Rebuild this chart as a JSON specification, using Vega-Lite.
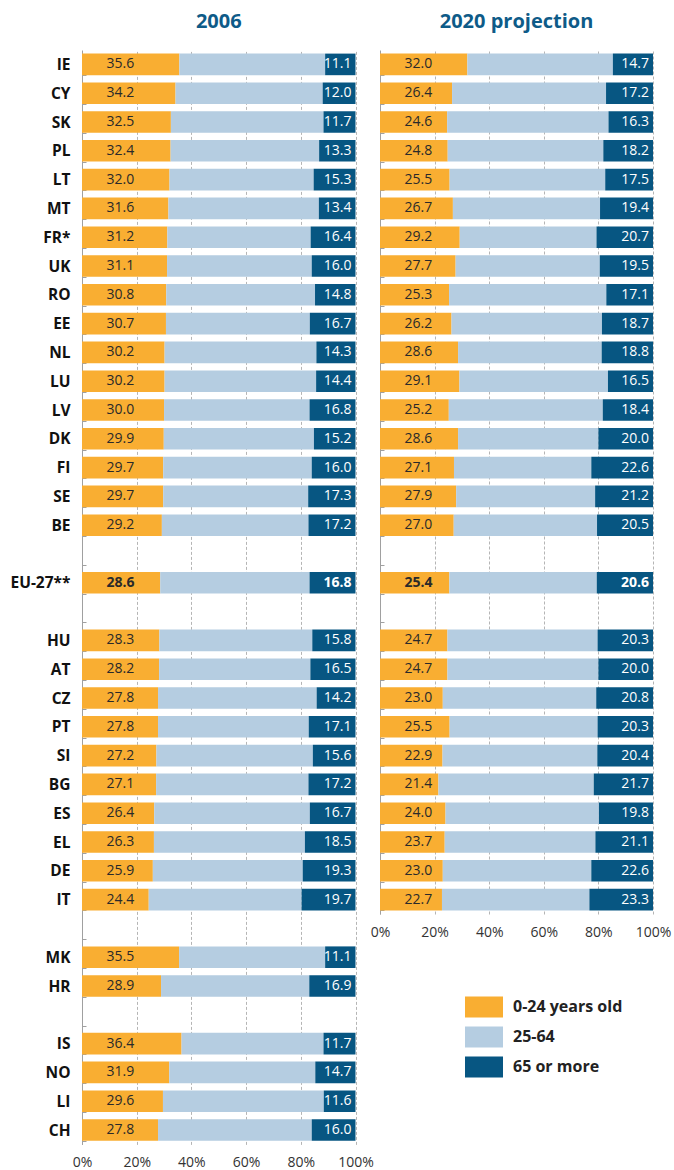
{
  "$schema": "https://vega.github.io/schema/vega-lite/v6.json",
  "background": "white",
  "padding": {"left": 9, "top": 12, "right": 2, "bottom": 2},
  "bounds": "flush",
  "spacing": 24,
  "datasets": {
    "d2006": [
      {"c": "IE", "0-24 years old": 35.6, "25-64": 53.3, "65 or more": 11.1},
      {"c": "CY", "0-24 years old": 34.2, "25-64": 53.8, "65 or more": 12.0},
      {"c": "SK", "0-24 years old": 32.5, "25-64": 55.8, "65 or more": 11.7},
      {"c": "PL", "0-24 years old": 32.4, "25-64": 54.3, "65 or more": 13.3},
      {"c": "LT", "0-24 years old": 32.0, "25-64": 52.7, "65 or more": 15.3},
      {"c": "MT", "0-24 years old": 31.6, "25-64": 55.0, "65 or more": 13.4},
      {"c": "FR*", "0-24 years old": 31.2, "25-64": 52.4, "65 or more": 16.4},
      {"c": "UK", "0-24 years old": 31.1, "25-64": 52.9, "65 or more": 16.0},
      {"c": "RO", "0-24 years old": 30.8, "25-64": 54.4, "65 or more": 14.8},
      {"c": "EE", "0-24 years old": 30.7, "25-64": 52.6, "65 or more": 16.7},
      {"c": "NL", "0-24 years old": 30.2, "25-64": 55.5, "65 or more": 14.3},
      {"c": "LU", "0-24 years old": 30.2, "25-64": 55.4, "65 or more": 14.4},
      {"c": "LV", "0-24 years old": 30.0, "25-64": 53.2, "65 or more": 16.8},
      {"c": "DK", "0-24 years old": 29.9, "25-64": 54.9, "65 or more": 15.2},
      {"c": "FI", "0-24 years old": 29.7, "25-64": 54.3, "65 or more": 16.0},
      {"c": "SE", "0-24 years old": 29.7, "25-64": 53.0, "65 or more": 17.3},
      {"c": "BE", "0-24 years old": 29.2, "25-64": 53.6, "65 or more": 17.2},
      {"c": "EU-27**", "0-24 years old": 28.6, "25-64": 54.6, "65 or more": 16.8},
      {"c": "HU", "0-24 years old": 28.3, "25-64": 55.9, "65 or more": 15.8},
      {"c": "AT", "0-24 years old": 28.2, "25-64": 55.3, "65 or more": 16.5},
      {"c": "CZ", "0-24 years old": 27.8, "25-64": 58.0, "65 or more": 14.2},
      {"c": "PT", "0-24 years old": 27.8, "25-64": 55.1, "65 or more": 17.1},
      {"c": "SI", "0-24 years old": 27.2, "25-64": 57.2, "65 or more": 15.6},
      {"c": "BG", "0-24 years old": 27.1, "25-64": 55.7, "65 or more": 17.2},
      {"c": "ES", "0-24 years old": 26.4, "25-64": 56.9, "65 or more": 16.7},
      {"c": "EL", "0-24 years old": 26.3, "25-64": 55.2, "65 or more": 18.5},
      {"c": "DE", "0-24 years old": 25.9, "25-64": 54.8, "65 or more": 19.3},
      {"c": "IT", "0-24 years old": 24.4, "25-64": 55.9, "65 or more": 19.7},
      {"c": "MK", "0-24 years old": 35.5, "25-64": 53.4, "65 or more": 11.1},
      {"c": "HR", "0-24 years old": 28.9, "25-64": 54.2, "65 or more": 16.9},
      {"c": "IS", "0-24 years old": 36.4, "25-64": 51.9, "65 or more": 11.7},
      {"c": "NO", "0-24 years old": 31.9, "25-64": 53.4, "65 or more": 14.7},
      {"c": "LI", "0-24 years old": 29.6, "25-64": 58.8, "65 or more": 11.6},
      {"c": "CH", "0-24 years old": 27.8, "25-64": 56.2, "65 or more": 16.0}
    ],
    "d2020": [
      {"c": "IE", "0-24 years old": 32.0, "25-64": 53.3, "65 or more": 14.7},
      {"c": "CY", "0-24 years old": 26.4, "25-64": 56.4, "65 or more": 17.2},
      {"c": "SK", "0-24 years old": 24.6, "25-64": 59.1, "65 or more": 16.3},
      {"c": "PL", "0-24 years old": 24.8, "25-64": 57.0, "65 or more": 18.2},
      {"c": "LT", "0-24 years old": 25.5, "25-64": 57.0, "65 or more": 17.5},
      {"c": "MT", "0-24 years old": 26.7, "25-64": 53.9, "65 or more": 19.4},
      {"c": "FR*", "0-24 years old": 29.2, "25-64": 50.1, "65 or more": 20.7},
      {"c": "UK", "0-24 years old": 27.7, "25-64": 52.8, "65 or more": 19.5},
      {"c": "RO", "0-24 years old": 25.3, "25-64": 57.6, "65 or more": 17.1},
      {"c": "EE", "0-24 years old": 26.2, "25-64": 55.1, "65 or more": 18.7},
      {"c": "NL", "0-24 years old": 28.6, "25-64": 52.6, "65 or more": 18.8},
      {"c": "LU", "0-24 years old": 29.1, "25-64": 54.4, "65 or more": 16.5},
      {"c": "LV", "0-24 years old": 25.2, "25-64": 56.4, "65 or more": 18.4},
      {"c": "DK", "0-24 years old": 28.6, "25-64": 51.4, "65 or more": 20.0},
      {"c": "FI", "0-24 years old": 27.1, "25-64": 50.3, "65 or more": 22.6},
      {"c": "SE", "0-24 years old": 27.9, "25-64": 50.9, "65 or more": 21.2},
      {"c": "BE", "0-24 years old": 27.0, "25-64": 52.5, "65 or more": 20.5},
      {"c": "EU-27**", "0-24 years old": 25.4, "25-64": 54.0, "65 or more": 20.6},
      {"c": "HU", "0-24 years old": 24.7, "25-64": 55.0, "65 or more": 20.3},
      {"c": "AT", "0-24 years old": 24.7, "25-64": 55.3, "65 or more": 20.0},
      {"c": "CZ", "0-24 years old": 23.0, "25-64": 56.2, "65 or more": 20.8},
      {"c": "PT", "0-24 years old": 25.5, "25-64": 54.2, "65 or more": 20.3},
      {"c": "SI", "0-24 years old": 22.9, "25-64": 56.7, "65 or more": 20.4},
      {"c": "BG", "0-24 years old": 21.4, "25-64": 56.9, "65 or more": 21.7},
      {"c": "ES", "0-24 years old": 24.0, "25-64": 56.2, "65 or more": 19.8},
      {"c": "EL", "0-24 years old": 23.7, "25-64": 55.2, "65 or more": 21.1},
      {"c": "DE", "0-24 years old": 23.0, "25-64": 54.4, "65 or more": 22.6},
      {"c": "IT", "0-24 years old": 22.7, "25-64": 54.0, "65 or more": 23.3}
    ]
  },
  "hconcat": [
    {
      "width": 273.5,
      "height": {"step": 28.8},
      "title": "2006",
      "data": {"name": "d2006"},
      "encoding": {
        "y": {
          "field": "c", "type": "nominal", "title": null,
          "scale": {
            "domain": ["IE","CY","SK","PL","LT","MT","FR*","UK","RO","EE","NL","LU","LV","DK","FI","SE","BE"," ","EU-27**","  ","HU","AT","CZ","PT","SI","BG","ES","EL","DE","IT","   ","MK","HR","    ","IS","NO","LI","CH"],
            "paddingInner": 0.25, "paddingOuter": 0.125
          },
          "axis": {"labels": true}
        }
      },
      "layer": [
        {
          "transform": [{"fold": ["0-24 years old", "25-64", "65 or more"], "as": ["group", "value"]}],
          "mark": {"type": "bar"},
          "encoding": {
            "x": {"field": "value", "type": "quantitative", "stack": "zero",
                  "scale": {"domain": [0, 100], "nice": false},
                  "axis": {"title": null, "values": [0, 20, 40, 60, 80, 100], "labelExpr": "datum.value + '%'", "labelFlush": false}},
            "color": {"field": "group", "type": "nominal",
                      "scale": {"domain": ["0-24 years old", "25-64", "65 or more"], "range": ["#F9AE32", "#B5CDE1", "#075682"]},
                      "legend": {"title": null, "orient": "none", "legendX": 383, "legendY": 938}},
            "order": {"field": "group", "sort": "ascending"}
          }
        },
        {
          "mark": {"type": "text", "align": "left", "baseline": "middle", "fontSize": 14, "color": "#2a2a2a",
                   "fontWeight": {"expr": "datum.c === 'EU-27**' ? 'bold' : 'normal'"}},
          "encoding": {
            "x": {"datum": 9, "type": "quantitative"},
            "text": {"field": "0-24 years old", "type": "quantitative", "format": ".1f"}
          }
        },
        {
          "mark": {"type": "text", "align": "right", "baseline": "middle", "fontSize": 14, "color": "white", "dx": -4,
                   "fontWeight": {"expr": "datum.c === 'EU-27**' ? 'bold' : 'normal'"}},
          "encoding": {
            "x": {"datum": 100, "type": "quantitative"},
            "text": {"field": "65 or more", "type": "quantitative", "format": ".1f"}
          }
        }
      ]
    },
    {
      "width": 273,
      "height": {"step": 28.8},
      "title": {"text": "2020 projection", "dy": -7},
      "data": {"name": "d2020"},
      "encoding": {
        "y": {
          "field": "c", "type": "nominal", "title": null,
          "scale": {
            "domain": ["IE","CY","SK","PL","LT","MT","FR*","UK","RO","EE","NL","LU","LV","DK","FI","SE","BE"," ","EU-27**","  ","HU","AT","CZ","PT","SI","BG","ES","EL","DE","IT"],
            "paddingInner": 0.25, "paddingOuter": 0.125
          },
          "axis": {"labels": false}
        }
      },
      "layer": [
        {
          "transform": [{"fold": ["0-24 years old", "25-64", "65 or more"], "as": ["group", "value"]}],
          "mark": {"type": "bar"},
          "encoding": {
            "x": {"field": "value", "type": "quantitative", "stack": "zero",
                  "scale": {"domain": [0, 100], "nice": false},
                  "axis": {"title": null, "values": [0, 20, 40, 60, 80, 100], "labelExpr": "datum.value + '%'", "labelFlush": false}},
            "color": {"field": "group", "type": "nominal",
                      "scale": {"domain": ["0-24 years old", "25-64", "65 or more"], "range": ["#F9AE32", "#B5CDE1", "#075682"]},
                      "legend": {"title": null, "orient": "none", "legendX": 383, "legendY": 938}},
            "order": {"field": "group", "sort": "ascending"}
          }
        },
        {
          "mark": {"type": "text", "align": "left", "baseline": "middle", "fontSize": 14, "color": "#2a2a2a",
                   "fontWeight": {"expr": "datum.c === 'EU-27**' ? 'bold' : 'normal'"}},
          "encoding": {
            "x": {"datum": 9, "type": "quantitative"},
            "text": {"field": "0-24 years old", "type": "quantitative", "format": ".1f"}
          }
        },
        {
          "mark": {"type": "text", "align": "right", "baseline": "middle", "fontSize": 14, "color": "white", "dx": -4,
                   "fontWeight": {"expr": "datum.c === 'EU-27**' ? 'bold' : 'normal'"}},
          "encoding": {
            "x": {"datum": 100, "type": "quantitative"},
            "text": {"field": "65 or more", "type": "quantitative", "format": ".1f"}
          }
        }
      ]
    }
  ],
  "config": {
    "view": {"stroke": null},
    "font": "Open Sans",
    "title": {"fontSize": 20, "fontWeight": "bold", "color": "#0E5B88", "offset": 11, "anchor": "middle", "font": "Open Sans"},
    "axisX": {"domain": false, "ticks": false, "grid": true, "gridColor": "#b5b5b5", "gridDash": [3, 2], "gridWidth": 1,
              "labelFontSize": 14, "labelColor": "#333", "labelPadding": 11, "labelFont": "Open Sans"},
    "axisY": {"domainColor": "#a0a0a0", "tickColor": "#a0a0a0", "tickSize": -4, "tickBand": "extent", "grid": false,
              "labelFontSize": 15.5, "labelFontWeight": "bold", "labelColor": "#111", "labelPadding": 16, "labelFont": "Open Sans"},
    "legend": {"symbolType": "M-1,-0.553H1V0.553H-1Z", "symbolSize": 1444, "symbolStrokeWidth": 0, "symbolOpacity": 1,
               "labelFontSize": 16, "labelFontWeight": "bold", "labelColor": "#222", "labelOffset": 10, "rowPadding": -9,
               "labelFont": "Open Sans", "padding": 0}
  }
}
